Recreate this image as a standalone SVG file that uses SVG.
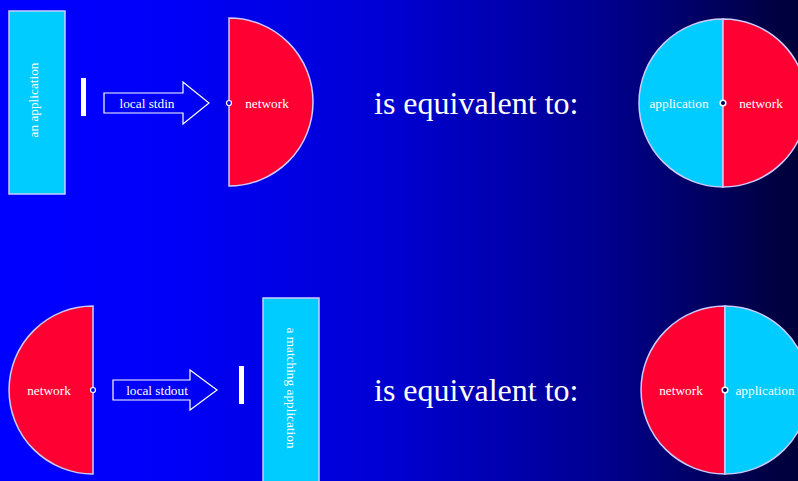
<svg xmlns="http://www.w3.org/2000/svg" width="798" height="481" viewBox="0 0 798 481">
<defs>
<linearGradient id="bg" x1="0" y1="0" x2="798" y2="0" gradientUnits="userSpaceOnUse">
<stop offset="0" stop-color="#0000ff"/>
<stop offset="0.2" stop-color="#0000fa"/>
<stop offset="0.5" stop-color="#0000d0"/>
<stop offset="0.75" stop-color="#000090"/>
<stop offset="1" stop-color="#000038"/>
</linearGradient>
</defs>
<style>
.app{fill:#00ccff;stroke:#ccccff;stroke-width:1.5}
.net{fill:#ff0033;stroke:#ccccff;stroke-width:1.5}
.arr{fill:none;stroke:#ffffff;stroke-width:1.2}
.bar{fill:#ffffff}
.lbl{font-family:"Liberation Serif","DejaVu Serif",serif;font-size:13.3px;fill:#ffffff;text-anchor:middle;dominant-baseline:central}
.big{font-family:"Liberation Serif","DejaVu Serif",serif;font-size:32px;fill:#ffffff}
.notch{fill:#0000f0;stroke:#ffffff;stroke-width:1.2}
.dot{fill:#000060;stroke:#ffffff;stroke-width:1.5}
</style>
<rect width="798" height="481" fill="url(#bg)"/>

<g id="app1">
<rect class="app" x="9" y="11" width="56" height="183"/>
<text class="lbl" transform="translate(33,100) rotate(-90)">an application</text>
</g>
<g id="bar1"><rect class="bar" x="81" y="78" width="5" height="38"/></g>
<g id="stdin">
<path class="arr" d="M104,93 H183 V82 L209,103 L183,124 V113 H104 Z"/>
<text class="lbl" x="147" y="103">local stdin</text>
</g>
<g id="net1">
<path class="net" d="M229,18 A84,84 0 0 1 229,186 Z"/>
<circle class="notch" cx="229" cy="103" r="2.5"/>
<text class="lbl" x="267" y="103">network</text>
</g>
<text class="big" x="374" y="114">is equivalent to:</text>
<g id="combo1">
<path class="app" d="M723,19 A84,84 0 0 0 723,187 Z"/>
<path class="net" d="M723,19 A84,84 0 0 1 723,187 Z"/>
<circle class="dot" cx="723" cy="103" r="2.8"/>
<text class="lbl" x="679" y="103">application</text>
<text class="lbl" x="761" y="103">network</text>
</g>

<g id="net2">
<path class="net" d="M93,306 A84,84 0 0 0 93,474 Z"/>
<circle class="notch" cx="93" cy="390" r="2.5"/>
<text class="lbl" x="49" y="390">network</text>
</g>
<g id="stdout">
<path class="arr" d="M113,380 H190 V370 L217,390 L190,410 V400 H113 Z"/>
<text class="lbl" x="157" y="390">local stdout</text>
</g>
<g id="bar2"><rect class="bar" x="239" y="366" width="5" height="38"/></g>
<g id="app2">
<rect class="app" x="263" y="298" width="56" height="190"/>
<text class="lbl" transform="translate(291,388) rotate(90)">a matching application</text>
</g>
<text class="big" x="374" y="401">is equivalent to:</text>
<g id="combo2">
<path class="net" d="M725,306 A84,84 0 0 0 725,474 Z"/>
<path class="app" d="M725,306 A84,84 0 0 1 725,474 Z"/>
<circle class="dot" cx="725" cy="390" r="2.8"/>
<text class="lbl" x="681" y="390">network</text>
<text class="lbl" x="765" y="390">application</text>
</g>
</svg>
